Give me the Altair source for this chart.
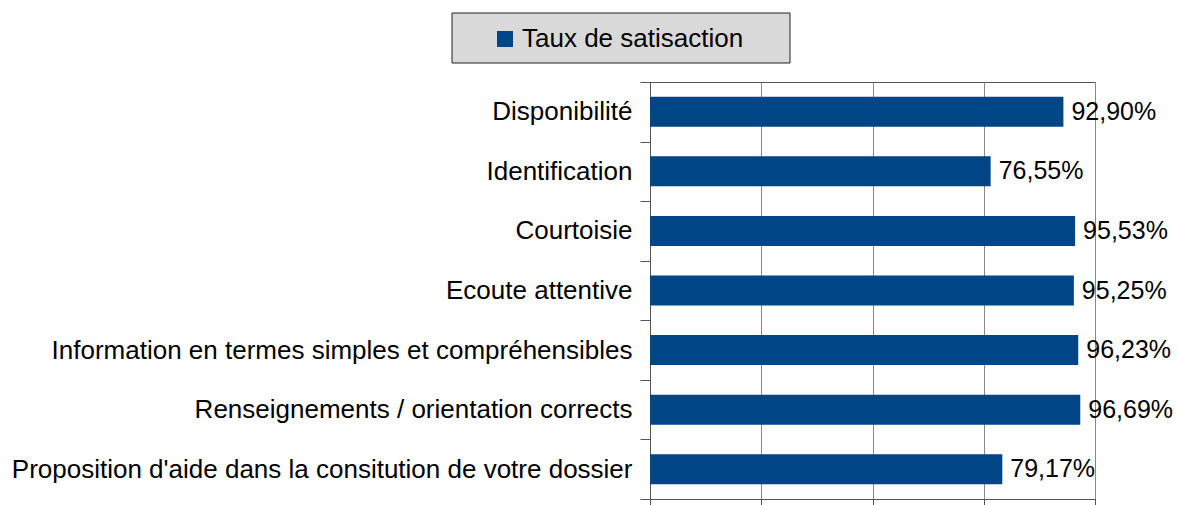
import altair as alt
import pandas as pd

categories = [
    "Disponibilité",
    "Identification",
    "Courtoisie",
    "Ecoute attentive",
    "Information en termes simples et compréhensibles",
    "Renseignements / orientation corrects",
    "Proposition d'aide dans la consitution de votre dossier",
]
values = [92.90, 76.55, 95.53, 95.25, 96.23, 96.69, 79.17]
series_name = "Taux de satisaction"
x_ticks = [0, 25, 50, 75, 100]

df = pd.DataFrame({
    "cat": categories,
    "val": values,
    "lab": [f"{v:.2f}".replace(".", ",") + "%" for v in values],
    "serie": [series_name] * len(values),
})

FONT = "Liberation Sans"
FS = 25

y_enc = alt.Y(
    "cat:N", sort=categories, title=None,
    scale=alt.Scale(paddingInner=0, paddingOuter=0),
    axis=alt.Axis(
        tickBand="extent", tickSize=10, tickColor="#555", domainColor="#555",
        labelFontSize=26, labelFont=FONT, labelColor="black", labelPadding=8,
        labelLimit=1000, grid=False,
    ),
)
x_enc = alt.X(
    "val:Q", title=None,
    scale=alt.Scale(domain=[0, 100], nice=False),
    axis=alt.Axis(
        values=x_ticks, labels=False, tickSize=6, tickColor="#555",
        domainColor="#555", grid=True, gridColor="#888", gridOpacity=1,
    ),
)

legend_box = alt.Chart(alt.Data(values=[{"a": 1}])).mark_rect(
    fill="#d9d9d9", stroke="#222", strokeWidth=1
).encode(
    x=alt.value(-198), x2=alt.value(140), y=alt.value(-69), y2=alt.value(-19)
)

bars = alt.Chart(df).mark_bar(size=30).encode(
    y=y_enc,
    x=x_enc,
    color=alt.Color(
        "serie:N",
        scale=alt.Scale(domain=[series_name], range=["#004586"]),
        legend=alt.Legend(
            title=None, orient="none", legendX=-158, legendY=-56,
            symbolType="square", symbolSize=256, symbolStrokeWidth=0,
            labelFontSize=26, labelFont=FONT, labelColor="black",
            labelOffset=4, labelLimit=1000, padding=0,
        ),
    ),
)

texts = alt.Chart(df).mark_text(
    align="left", baseline="middle", dx=8, fontSize=FS, font=FONT, color="black"
).encode(
    y=alt.Y("cat:N", sort=categories),
    x=alt.X("val:Q"),
    text="lab:N",
)

chart = alt.layer(legend_box, bars, texts).properties(
    width=445, height=417,
    autosize=alt.AutoSizeParams(type="none"),
    padding={"left": 650, "top": 82, "right": 83, "bottom": 6},
    background="white",
).configure_view(stroke="#555", strokeWidth=1)

chart.save("out.html", embed_options={"renderer": "svg", "actions": False})
